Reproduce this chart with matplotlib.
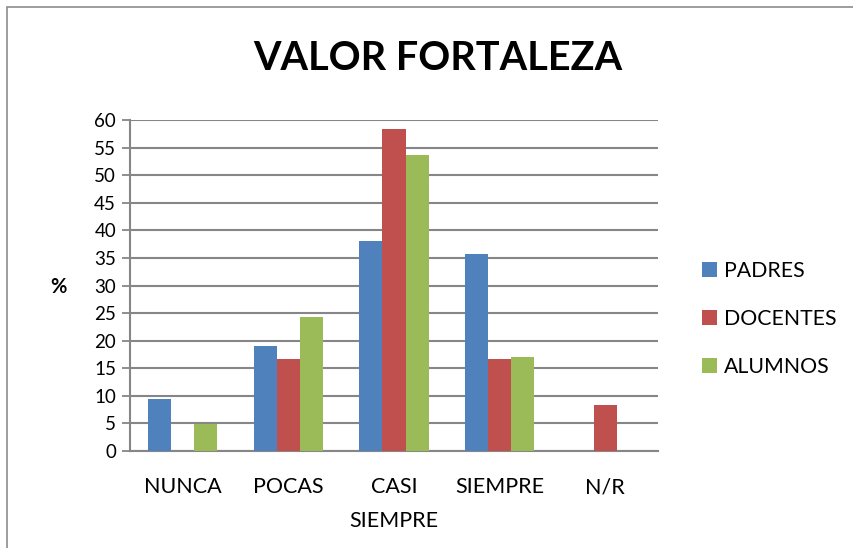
import numpy as np
import matplotlib

matplotlib.use("Agg")
import matplotlib.pyplot as plt
from matplotlib.patches import Rectangle

plt.rcParams["font.family"] = ["Lato", "DejaVu Sans"]

categories = ["NUNCA", "POCAS", "CASI\nSIEMPRE", "SIEMPRE", "N/R"]
series_names = ["PADRES", "DOCENTES", "ALUMNOS"]
padres = [9.5, 19.0, 38.0, 35.7, 0.0]
docentes = [0.0, 16.7, 58.3, 16.7, 8.3]
alumnos = [4.9, 24.3, 53.6, 17.0, 0.0]
colors = ["#4F81BD", "#C0504D", "#9BBB59"]

fig = plt.figure(figsize=(8.54, 5.48), dpi=100)
fig.patches.append(Rectangle((7 / 854, -0.1), 1.2, 1 - 7 / 548 + 0.1, transform=fig.transFigure,
                             fill=False, edgecolor="#8C8C8C", lw=1.2))
ax = fig.add_axes([130 / 854, 1 - 451 / 548, 528 / 854, 331 / 548])

x = np.arange(len(categories))
w = 0.218
for i, (vals, name, c) in enumerate(zip([padres, docentes, alumnos], series_names, colors)):
    ax.bar(x + (i - 1) * w, vals, width=w, color=c, label=name, zorder=3)

ax.set_xlim(-0.5, len(categories) - 0.5)
ax.set_ylim(0, 60)
ax.set_yticks(range(0, 61, 5))
ax.set_xticks(x)
ax.set_xticklabels(categories, fontsize=15.5, linespacing=1.86, va="top")
ax.tick_params(axis="x", length=0, pad=19)
ax.tick_params(axis="y", length=6, width=1.3, color="#868686", labelsize=13.5, pad=4)
ax.yaxis.grid(True, color="#868686", lw=1.5, zorder=0)
ax.set_axisbelow(True)
for s in ("top", "right"):
    ax.spines[s].set_visible(False)
for s in ("left", "bottom"):
    ax.spines[s].set_color("#868686")
    ax.spines[s].set_linewidth(1.5)

fig.text(58 / 854, 1 - 287 / 548, "%", fontsize=14.5, fontweight="bold", ha="center", va="center")
fig.text(438 / 854, 1 - 59 / 548, "VALOR FORTALEZA", fontsize=28.5, fontweight="bold",
         ha="center", va="center")

ax.legend(loc="center left", bbox_to_anchor=(683 / 854, 1 - 319 / 548), bbox_transform=fig.transFigure,
          frameon=False, fontsize=15.3, labelspacing=1.33, handlelength=0.7, handleheight=0.7,
          handletextpad=0.35)

fig.savefig("out.png", dpi=100)
